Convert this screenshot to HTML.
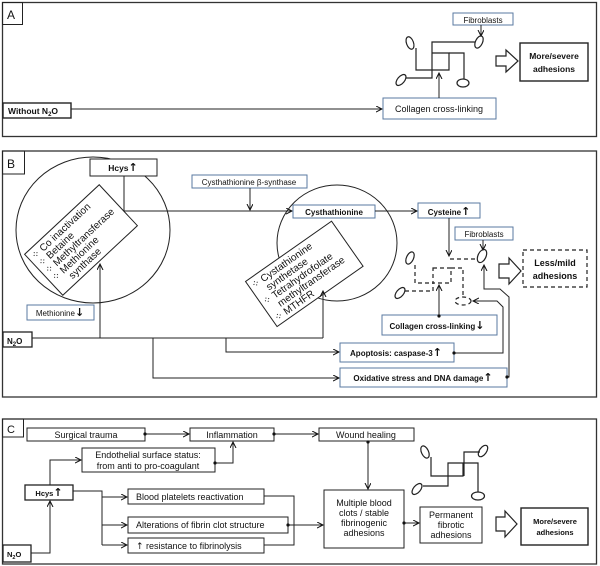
<!DOCTYPE html>
<html><head><meta charset="utf-8"><style>
html,body{margin:0;padding:0;background:#fff;}
svg{display:block;font-family:"Liberation Sans",Arial,sans-serif;}
text{font-size:8.5px;fill:#111;}
.b{font-weight:bold;}
.ar{font-family:"DejaVu Sans",sans-serif;font-weight:bold;font-size:11px;}
</style></head><body>
<svg width="600" height="566" viewBox="0 0 600 566" xmlns="http://www.w3.org/2000/svg">
<defs>
<marker id="a" markerWidth="8" markerHeight="8" refX="6" refY="3" orient="auto" markerUnits="userSpaceOnUse"><path d="M0,0 L6,3 L0,6" fill="none" stroke="#111" stroke-width="1"/></marker>
<marker id="d" markerWidth="5" markerHeight="5" refX="2.5" refY="2.5" markerUnits="userSpaceOnUse"><circle cx="2.5" cy="2.5" r="1.6" fill="#111"/></marker>
</defs>
<g fill="none" stroke="#222" stroke-width="1">
<!-- Panel A -->
<rect x="2.5" y="2.5" width="594" height="134" stroke="#333" stroke-width="1.3"/>
<rect x="2.5" y="2.5" width="20" height="22"/>
<rect x="453" y="13" width="60" height="12" stroke="#5a7aa0"/>
<line x1="481" y1="25" x2="481" y2="36" marker-end="url(#a)"/>
<ellipse cx="410" cy="43" rx="3.5" ry="6.5" transform="rotate(-20 410 43)" stroke-width="1.2"/>
<ellipse cx="479" cy="42" rx="3.5" ry="6.5" transform="rotate(25 479 42)" stroke-width="1.2"/>
<ellipse cx="401" cy="80" rx="3.5" ry="6.5" transform="rotate(40 401 80)" stroke-width="1.2"/>
<ellipse cx="463" cy="83" rx="6" ry="4" stroke-width="1.2"/>
<path d="M416,48 V70 H449 V53 H432" stroke-width="1.2"/>
<path d="M406,78 H432 V42 H475" stroke-width="1.2"/>
<path d="M449,53 H464 V79" stroke-width="1.2"/>
<rect x="520" y="43" width="68" height="38" stroke-width="1.4"/>
<path d="M496,56 H506 V50 L518,61 L506,72 V66 H496 Z" stroke-width="1.2"/>
<rect x="3" y="103" width="68" height="15" stroke-width="1.4"/>
<line x1="71" y1="109" x2="382" y2="109" marker-end="url(#a)"/>
<rect x="383" y="98" width="113" height="21" stroke="#5a7aa0"/>
<line x1="439" y1="98" x2="439" y2="73" marker-end="url(#a)"/>

<!-- Panel B -->
<rect x="2.5" y="151" width="594" height="246" stroke="#333" stroke-width="1.3"/>
<rect x="2.5" y="151" width="22" height="23"/>
<ellipse cx="93" cy="230" rx="77" ry="73"/>
<rect x="90" y="159" width="67" height="17" fill="#fff"/>
<rect x="30" y="212" width="102" height="56" transform="rotate(-43 81 240)"/>
<ellipse cx="337" cy="243" rx="60" ry="58"/>
<rect x="252" y="246" width="105" height="55" transform="rotate(-35 305 274)" fill="#fff"/>
<rect x="192" y="175" width="115" height="13" stroke="#5a7aa0"/>
<line x1="250" y1="188" x2="250" y2="210" marker-end="url(#a)"/>
<path d="M124,176 V211 H292" marker-end="url(#a)"/>
<rect x="293" y="205" width="82" height="13" stroke="#5a7aa0" fill="#fff"/>
<line x1="375" y1="211" x2="417" y2="211" marker-end="url(#a)"/>
<rect x="418" y="203" width="62" height="15" stroke="#5a7aa0"/>
<rect x="455" y="227" width="58" height="13" stroke="#5a7aa0"/>
<line x1="483" y1="240" x2="483" y2="250" marker-end="url(#a)"/>
<line x1="449" y1="218" x2="449" y2="256" marker-end="url(#a)"/>
<rect x="27" y="305" width="67" height="15" stroke="#5a7aa0"/>
<rect x="3" y="332" width="29" height="15" stroke-width="1.3"/>
<line x1="32" y1="338" x2="323" y2="338"/>
<line x1="100" y1="338" x2="100" y2="264" marker-end="url(#a)"/>
<line x1="323" y1="338" x2="323" y2="291" marker-end="url(#a)"/>
<path d="M226,338 V352 H339" marker-end="url(#a)"/>
<path d="M153,338 V378 H339" marker-end="url(#a)"/>
<rect x="340" y="343" width="114" height="19" stroke="#5a7aa0"/>
<rect x="340" y="368" width="167" height="19" stroke="#5a7aa0"/>
<rect x="382" y="315" width="115" height="20" stroke="#5a7aa0"/>
<line x1="439" y1="316" x2="439" y2="285" marker-start="url(#d)" marker-end="url(#a)"/>
<ellipse cx="410" cy="258" rx="3.5" ry="6.5" transform="rotate(25 410 258)" stroke-width="1.2"/>
<ellipse cx="400" cy="293" rx="3.5" ry="6.5" transform="rotate(40 400 293)" stroke-width="1.2"/>
<ellipse cx="482" cy="256" rx="4" ry="7" transform="rotate(25 482 256)" stroke-width="1.2"/>
<g stroke-dasharray="4,3" stroke-width="1.2">
<path d="M450,259 H478"/>
<rect x="433" y="268" width="18" height="15"/>
<path d="M451,268 H463 V296"/>
<path d="M415,265 V283 H433"/>
<path d="M405,291 H433 V283"/>
<ellipse cx="463" cy="301" rx="8" ry="4"/>
<rect x="523" y="250" width="64" height="37"/>
</g>
<path d="M499,264 H509 V258 L521,271 L509,284 V278 H499 Z" stroke-width="1.2"/>
<path d="M454,353 H503 V307 L497,301 H473" marker-start="url(#d)" marker-end="url(#a)"/>
<path d="M507,377 H509 V297 L500,289 H484 V265" marker-start="url(#d)" marker-end="url(#a)"/>

<!-- Panel C -->
<rect x="2.5" y="419" width="594" height="145" stroke="#333" stroke-width="1.3"/>
<rect x="2.5" y="419" width="21" height="18"/>
<rect x="27" y="428" width="118" height="13"/>
<rect x="190" y="428" width="84" height="13"/>
<rect x="319" y="428" width="95" height="13"/>
<line x1="145" y1="434" x2="189" y2="434" marker-start="url(#d)" marker-end="url(#a)"/>
<line x1="274" y1="434" x2="318" y2="434" marker-start="url(#d)" marker-end="url(#a)"/>
<rect x="82" y="448" width="133" height="24"/>
<path d="M215,463 H233 V442" marker-start="url(#d)" marker-end="url(#a)"/>
<rect x="25" y="485" width="48" height="15" stroke-width="1.3"/>
<path d="M50,485 V460 H81" marker-end="url(#a)"/>
<rect x="3" y="545" width="28" height="17" stroke-width="1.3"/>
<path d="M31,553 H50 V501" marker-end="url(#a)"/>
<path d="M73,491 H102 V545"/>
<line x1="102" y1="497" x2="127" y2="497" marker-end="url(#a)"/>
<line x1="102" y1="525" x2="127" y2="525" marker-end="url(#a)"/>
<line x1="102" y1="545" x2="127" y2="545" marker-end="url(#a)"/>
<rect x="128" y="489" width="136" height="15"/>
<rect x="128" y="517" width="160" height="16"/>
<rect x="128" y="538" width="136" height="15"/>
<path d="M264,496 H294 V545 H264"/>
<line x1="288" y1="525" x2="323" y2="525" marker-start="url(#d)" marker-end="url(#a)"/>
<rect x="324" y="490" width="80" height="58"/>
<line x1="368" y1="442" x2="368" y2="489" marker-start="url(#d)" marker-end="url(#a)"/>
<line x1="404" y1="523" x2="419" y2="523" marker-start="url(#d)" marker-end="url(#a)"/>
<rect x="420" y="507" width="62" height="36"/>
<path d="M496,517 H505 V511 L517,524 L505,537 V531 H496 Z" stroke-width="1.2"/>
<rect x="521" y="508" width="67" height="37" stroke-width="1.4"/>
<ellipse cx="425" cy="452" rx="3.5" ry="6.5" transform="rotate(-25 425 452)" stroke-width="1.2"/>
<ellipse cx="483" cy="451" rx="3.5" ry="6.5" transform="rotate(35 483 451)" stroke-width="1.2"/>
<ellipse cx="417" cy="489" rx="3.5" ry="6.5" transform="rotate(40 417 489)" stroke-width="1.2"/>
<ellipse cx="478" cy="496" rx="6.5" ry="4" stroke-width="1.2"/>
<path d="M431,457 V476 H463 V463 H448 V486 H423" stroke-width="1.2"/>
<path d="M480,452 H464 V476" stroke-width="1.2"/>
<path d="M463,463 H478 V492" stroke-width="1.2"/>
</g>

<!-- Text -->
<text x="7" y="19" style="font-size:12px">A</text>
<text x="483" y="23" text-anchor="middle" style="font-size:8px">Fibroblasts</text>
<text x="554" y="59" text-anchor="middle" class="b">More/severe</text>
<text x="554" y="72" text-anchor="middle" class="b">adhesions</text>
<text x="8" y="114" class="b">Without N<tspan dy="2" style="font-size:6px">2</tspan><tspan dy="-2">O</tspan></text>
<text x="439" y="112" text-anchor="middle" style="font-size:9px">Collagen cross-linking</text>

<text x="7" y="168" style="font-size:12px">B</text>
<text x="123" y="171" text-anchor="middle" class="b">Hcys<tspan class="ar">↑</tspan></text>
<text x="249" y="185" text-anchor="middle" style="font-size:8px">Cysthathionine β-synthase</text>
<text x="334" y="215" text-anchor="middle" class="b" style="font-size:8px">Cysthathionine</text>
<text x="449" y="215" text-anchor="middle" class="b" style="font-size:8px">Cysteine<tspan class="ar">↑</tspan></text>
<text x="484" y="237" text-anchor="middle" style="font-size:8px">Fibroblasts</text>
<text x="60" y="316" text-anchor="middle" style="font-size:8px">Methionine<tspan class="ar">↓</tspan></text>
<text x="7" y="344" class="b" style="font-size:8px">N<tspan dy="2" style="font-size:6px">2</tspan><tspan dy="-2">O</tspan></text>
<text x="555" y="266" text-anchor="middle" class="b" style="font-size:9px">Less/mild</text>
<text x="555" y="279" text-anchor="middle" class="b" style="font-size:9px">adhesions</text>
<text x="437" y="329" text-anchor="middle" class="b" style="font-size:8px">Collagen cross-linking<tspan class="ar">↓</tspan></text>
<text x="396" y="356" text-anchor="middle" class="b" style="font-size:8px">Apoptosis:  caspase-3<tspan class="ar">↑</tspan></text>
<text x="423" y="381" text-anchor="middle" class="b" style="font-size:8px">Oxidative stress  and DNA  damage<tspan class="ar">↑</tspan></text>
<g transform="rotate(-43 81 240)">
<text x="34" y="223" style="font-size:10px">⁘ Co inactivation</text>
<text x="34" y="233" style="font-size:10px">⁘ Betaine</text>
<text x="34" y="243" style="font-size:10px">⁘ Methyltransferase</text>
<text x="34" y="253" style="font-size:10px">⁘ Methionine</text>
<text x="48" y="263" style="font-size:10px">synthase</text>
</g>
<g transform="rotate(-35 305 274)">
<text x="255" y="257" style="font-size:10px">⁘ Cystathionine</text>
<text x="266" y="267" style="font-size:10px">synthetase</text>
<text x="255" y="277" style="font-size:10px">⁘ Tetrahydrofolate</text>
<text x="266" y="287" style="font-size:10px">methyltransferase</text>
<text x="255" y="297" style="font-size:10px">⁘ MTHFR</text>
</g>

<text x="7" y="433" style="font-size:11px">C</text>
<text x="86" y="438" text-anchor="middle" style="font-size:9px">Surgical trauma</text>
<text x="232" y="438" text-anchor="middle" style="font-size:9px">Inflammation</text>
<text x="366" y="438" text-anchor="middle" style="font-size:9px">Wound healing</text>
<text x="148" y="458" text-anchor="middle" style="font-size:9px">Endothelial surface status:</text>
<text x="148" y="469" text-anchor="middle" style="font-size:9px">from anti to pro-coagulant</text>
<text x="49" y="496" text-anchor="middle" class="b" style="font-size:7.5px">Hcys<tspan class="ar">↑</tspan></text>
<text x="7" y="557" class="b" style="font-size:7.5px">N<tspan dy="2" style="font-size:5.5px">2</tspan><tspan dy="-2">O</tspan></text>
<text x="136" y="500" style="font-size:9px">Blood platelets reactivation</text>
<text x="136" y="528" style="font-size:9px">Alterations of fibrin clot structure</text>
<text x="136" y="549" style="font-size:9px"><tspan style="font-family:'DejaVu Sans',sans-serif">↑</tspan> resistance to fibrinolysis</text>
<text x="364" y="506" text-anchor="middle" style="font-size:9px">Multiple blood</text>
<text x="364" y="516" text-anchor="middle" style="font-size:9px">clots / stable</text>
<text x="364" y="526" text-anchor="middle" style="font-size:9px">fibrinogenic</text>
<text x="364" y="536" text-anchor="middle" style="font-size:9px">adhesions</text>
<text x="451" y="518" text-anchor="middle" style="font-size:9px">Permanent</text>
<text x="451" y="528" text-anchor="middle" style="font-size:9px">fibrotic</text>
<text x="451" y="538" text-anchor="middle" style="font-size:9px">adhesions</text>
<text x="555" y="524" text-anchor="middle" class="b" style="font-size:7.5px">More/severe</text>
<text x="555" y="535" text-anchor="middle" class="b" style="font-size:7.5px">adhesions</text>
</svg>
</body></html>
